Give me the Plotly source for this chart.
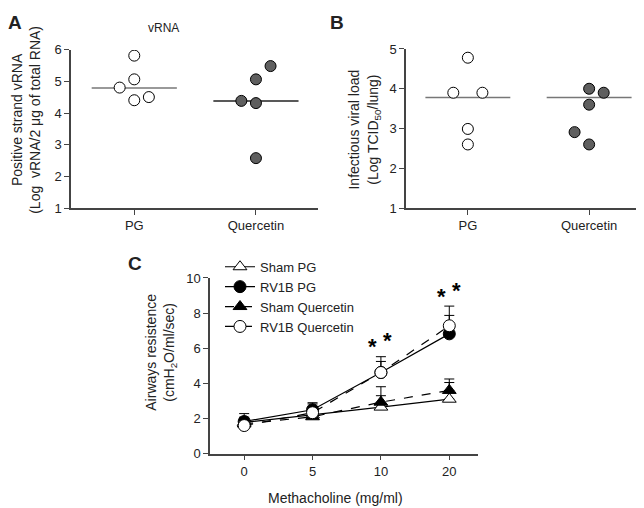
import plotly.graph_objects as go

# ---- data ----
groups = ["PG", "Quercetin"]

# panel A: positive strand vRNA (log)
a_pg = [5.82, 4.81, 5.07, 4.41, 4.51]
a_pg_jit = [0, -0.12, 0, 0, 0.12]
a_q = [5.49, 5.07, 4.39, 4.32, 2.58]
a_q_jit = [0.12, 0, -0.12, 0, 0]
a_lines = [4.80, 4.39]

# panel B: infectious viral load (log TCID50/lung)
b_pg = [4.78, 3.90, 3.90, 2.99, 2.60]
b_pg_jit = [0, -0.12, 0.12, 0, 0]
b_q = [4.00, 3.90, 3.60, 2.91, 2.60]
b_q_jit = [0, 0.12, 0, -0.12, 0]
b_lines = [3.78, 3.78]

# panel C: airway resistance vs methacholine
doses = ["0", "5", "10", "20"]
sham_pg = [1.78, 2.20, 2.65, 3.10]
sham_pg_err = [0.30, 0.35, 0.65, 0.95]
rv1b_pg = [1.83, 2.50, 4.62, 6.82]
rv1b_pg_err = [0.45, 0.40, 0.63, 1.05]
sham_q = [1.69, 2.10, 2.93, 3.60]
sham_q_err = [0.30, 0.35, 0.88, 0.65]
rv1b_q = [1.60, 2.33, 4.62, 7.28]
rv1b_q_err = [0.40, 0.50, 0.90, 1.12]
sig_doses = ["10", "20"]

FONT = "Liberation Sans, Arial, sans-serif"
W, H = 644, 508
AX = "#444444"


def px(x0, x1):
    return [x0 / W, x1 / W]


def py(top, bottom):
    return [1 - bottom / H, 1 - top / H]


fig = go.Figure()

# dot plots A and B
def dot_panel(xa, ya, pg, pg_jit, q, q_jit, lines, line_cols):
    for i, (m, c) in enumerate(zip(lines, line_cols)):
        fig.add_trace(go.Scatter(
            x=[i - 0.35, i + 0.35], y=[m, m], mode="lines",
            line=dict(color=c, width=1.5), showlegend=False,
            xaxis=xa, yaxis=ya, hoverinfo="skip"))
    fig.add_trace(go.Scatter(
        x=[0 + j for j in pg_jit], y=pg, mode="markers",
        marker=dict(size=11, color="white", line=dict(color="black", width=1)),
        showlegend=False, xaxis=xa, yaxis=ya))
    fig.add_trace(go.Scatter(
        x=[1 + j for j in q_jit], y=q, mode="markers",
        marker=dict(size=11, color="#5f5f5f", line=dict(color="black", width=1)),
        showlegend=False, xaxis=xa, yaxis=ya))


dot_panel("x", "y", a_pg, a_pg_jit, a_q, a_q_jit, a_lines, ["#777777", "#222222"])
dot_panel("x2", "y2", b_pg, b_pg_jit, b_q, b_q_jit, b_lines, ["#777777", "#777777"])

# line plot C
xi = list(range(len(doses)))
series = [
    ("Sham PG", sham_pg, sham_pg_err, "triangle-up", "white", "solid"),
    ("RV1B PG", rv1b_pg, rv1b_pg_err, "circle", "black", "solid"),
    ("Sham Quercetin", sham_q, sham_q_err, "triangle-up", "black", "dash"),
    ("RV1B Quercetin", rv1b_q, rv1b_q_err, "circle", "white", "dash"),
]
for name, ys, err, sym, fill, dash in series:
    fig.add_trace(go.Scatter(
        x=xi, y=ys, name=name, mode="lines+markers",
        line=dict(color="black", width=1.2, dash=dash),
        marker=dict(symbol=sym, size=12, color=fill, line=dict(color="black", width=1)),
        error_y=dict(type="data", symmetric=False, array=err, arrayminus=[0] * len(err),
                     color="black", thickness=1, width=5),
        xaxis="x3", yaxis="y3"))

# asterisks above the highest error bar
for d in sig_doses:
    i = doses.index(d)
    top = max(s[1][i] + s[2][i] for s in series)
    for dx, dy in [(-8, 10), (7, 16)]:
        fig.add_annotation(x=i, y=top, xref="x3", yref="y3", text="<b>*</b>",
                           showarrow=False, xshift=dx, yshift=dy, yanchor="middle",
                           font=dict(size=22, color="black", family=FONT))

axis_common = dict(showline=True, linecolor=AX, linewidth=1.5, ticks="outside",
                   ticklen=5, tickcolor=AX, showgrid=False, zeroline=False,
                   tickfont=dict(size=13, color="#222", family=FONT))

fig.update_layout(
    width=W, height=H, margin=dict(l=0, r=0, t=0, b=0),
    paper_bgcolor="white", plot_bgcolor="white",
    font=dict(family=FONT, color="#222"),
    xaxis=dict(domain=px(63, 310), range=[-0.52, 1.51], tickvals=[0, 1], ticktext=groups,
               anchor="y", **axis_common),
    yaxis=dict(domain=py(36, 199), range=[1, 6], tickvals=[1, 2, 3, 4, 5, 6],
               anchor="x", **axis_common),
    xaxis2=dict(domain=px(398, 643), range=[-0.51, 1.51], tickvals=[0, 1], ticktext=groups,
                anchor="y2", **axis_common),
    yaxis2=dict(domain=py(35, 199), range=[1, 5], tickvals=[1, 2, 3, 4, 5],
                anchor="x2", **axis_common),
    xaxis3=dict(domain=px(202, 470), range=[-0.5, 3.42], tickvals=xi, ticktext=doses,
                anchor="y3", **axis_common),
    yaxis3=dict(domain=py(271, 452), range=[0, 10], tickvals=[0, 2, 4, 6, 8, 10],
                anchor="x3", **axis_common),
    legend=dict(x=212 / W, y=1 - 244 / H, xanchor="left", yanchor="top",
                bgcolor="rgba(0,0,0,0)", font=dict(size=13, color="#222", family=FONT),
                itemwidth=30, tracegroupgap=0),
)

texts = [
    ("<b>A</b>", 7, 8, 0, 19),
    ("<b>B</b>", 329, 8, 0, 19),
    ("<b>C</b>", 127, 256, 0, 19),
    ("vRNA", 155, 13, 0, 12),
    ("Positive strand vRNA<br>(Log  vRNA/2 μg of total RNA)", 18, 108, -90, 14),
    ("Infectious viral load<br>(Log TCID<sub>50</sub>/lung)", 356, 118, -90, 14),
    ("Airways resistence<br>(cmH<sub>2</sub>O/ml/sec)", 153, 348, -90, 14),
    ("Methacholine (mg/ml)", 327, 498, 0, 14),
]
for t, x, y, ang, sz in texts:
    fig.add_annotation(text=t, x=x / W, y=1 - y / H, xref="paper", yref="paper",
                       showarrow=False, textangle=ang, xanchor="center", yanchor="middle",
                       font=dict(size=sz, color="#222", family=FONT))

fig.write_html("out.html")
